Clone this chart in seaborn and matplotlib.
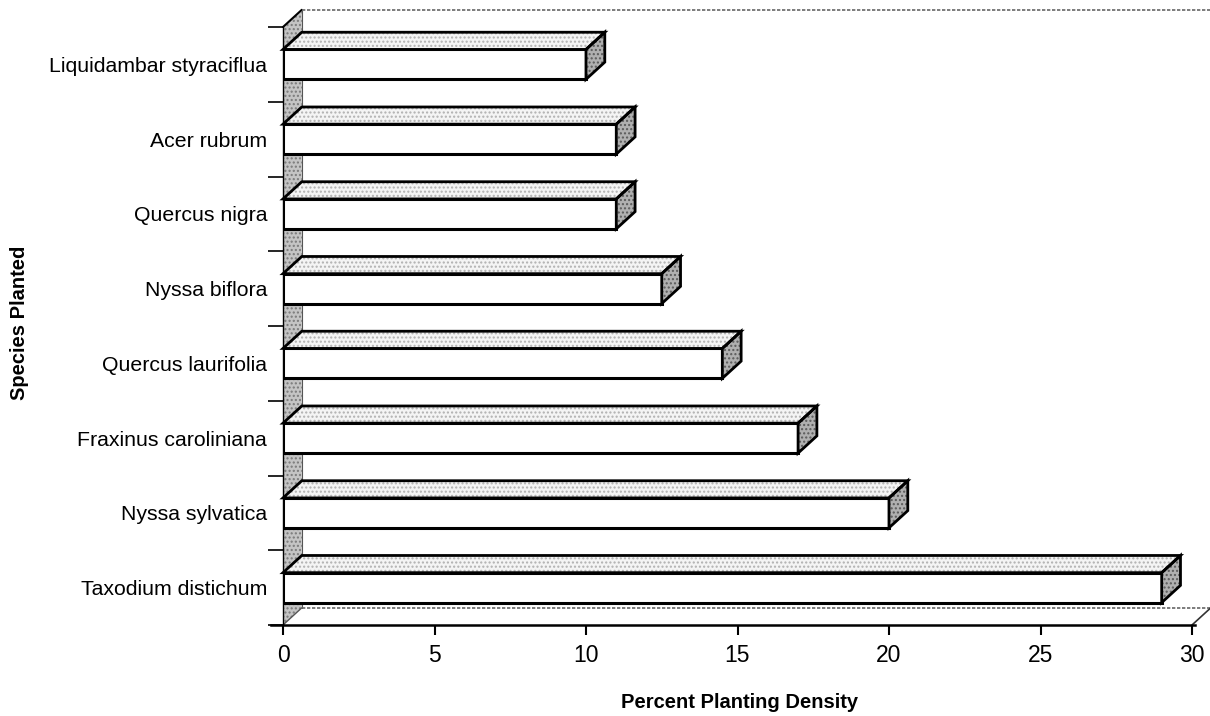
import matplotlib
matplotlib.use("Agg")
import matplotlib.pyplot as plt
from matplotlib.patches import Polygon
import seaborn as sns
import pandas as pd

species = ["Liquidambar styraciflua", "Acer rubrum", "Quercus nigra", "Nyssa biflora",
           "Quercus laurifolia", "Fraxinus caroliniana", "Nyssa sylvatica", "Taxodium distichum"]
density = [10.0, 11.0, 11.0, 12.5, 14.5, 17.0, 20.0, 29.0]
xticks = [0, 5, 10, 15, 20, 25, 30]

sns.set_style("white")
plt.rcParams['font.family'] = ['Liberation Sans', 'DejaVu Sans']
plt.rcParams['text.color'] = 'black'
plt.rcParams['axes.labelcolor'] = 'black'
plt.rcParams['xtick.color'] = 'black'
plt.rcParams['ytick.color'] = 'black'

df = pd.DataFrame({"species": species, "density": density})

fig = plt.figure(figsize=(12.1, 7.16), dpi=100)
ax = fig.add_axes([283/1210, 1 - 625/716, (1192 - 283)/1210, (625 - 27)/716])

sns.barplot(data=df, x="density", y="species", orient="h", color="white",
            edgecolor="black", linewidth=2.2, width=0.4, ax=ax, zorder=3, saturation=1)

ax.set_xlim(0, 30)
ax.set_ylim(len(species) - 0.5, -0.5)

dx = 0.62   # depth in x data units
dy = 0.23   # depth in category units

def stipple(verts, face, hatchcol, z, lw=2.0):
    ax.add_patch(Polygon(verts, closed=True, facecolor=face, edgecolor=hatchcol,
                         hatch="....", lw=0, zorder=z, clip_on=False))
    ax.add_patch(Polygon(verts, closed=True, facecolor="none", edgecolor="black",
                         lw=lw, zorder=z + 0.01, clip_on=False, joinstyle="miter"))

# left wall
ylo, yhi = len(species) - 0.5, -0.5
wall = [(0, ylo), (dx, ylo - dy), (dx, yhi - dy), (0, yhi)]
ax.add_patch(Polygon(wall, closed=True, facecolor="#c4c4c4", edgecolor="#7a7a7a",
                     hatch="....", lw=0, zorder=0.5, clip_on=False))
ax.plot([0, dx], [yhi, yhi - dy], color="black", lw=1.5, zorder=0.6, clip_on=False)
ax.plot([dx, dx], [yhi - dy, ylo - dy], color="#555555", lw=0.8, zorder=0.6, clip_on=False)

# back top line and floor line
ax.plot([dx, 30 + dx], [yhi - dy, yhi - dy], color="#666666", lw=1.2, ls=(0, (2, 1)),
        zorder=0.6, clip_on=False)
ax.plot([dx, 30 + dx], [ylo - dy, ylo - dy], color="#666666", lw=1.2, ls=(0, (2, 1)),
        zorder=0.6, clip_on=False)
ax.plot([0, dx], [ylo, ylo - dy], color="#555555", lw=1.0, zorder=0.6, clip_on=False)
ax.plot([30, 30 + dx], [ylo, ylo - dy], color="#333333", lw=1.2, zorder=0.6, clip_on=False)

# 3D faces for each bar
for p in ax.patches[:]:
    if not hasattr(p, "get_width") or p.get_zorder() != 3:
        continue
    w = p.get_width()
    y = p.get_y()
    h = p.get_height()
    top = [(0, y), (w, y), (w + dx, y - dy), (dx, y - dy)]
    side = [(w, y), (w, y + h), (w + dx, y + h - dy), (w + dx, y - dy)]
    stipple(top, "#f4f4f4", "#b0b0b0", 3.1)
    stipple(side, "#b0b0b0", "#5a5a5a", 3.1)

# axes / ticks
for s in ["top", "right"]:
    ax.spines[s].set_visible(False)
ax.spines["left"].set_linewidth(1.0)
ax.spines["left"].set_color("black")
ax.spines["bottom"].set_linewidth(1.8)
ax.spines["bottom"].set_color("black")
ax.spines["bottom"].set_bounds(-0.4, 30.1)

ax.set_xticks(xticks)
ax.set_xticklabels([str(t) for t in xticks], fontsize=16.5)
ax.tick_params(axis="x", direction="out", length=7, width=1.5, pad=7, bottom=True)

ax.set_yticks(range(len(species)))
ax.set_yticklabels(species, fontsize=15.3)
ax.tick_params(axis="y", which="major", length=0, pad=11.5, left=False)
ax.set_yticks([i - 0.5 for i in range(len(species) + 1)], minor=True)
ax.tick_params(axis="y", which="minor", direction="out", length=11, width=1.2, left=True)

ax.set_xlabel("Percent Planting Density", fontsize=14.5, fontweight="bold")
ax.set_ylabel("Species Planted", fontsize=14.5, fontweight="bold")
ax.xaxis.set_label_coords((740 - 283) / (1192 - 283), -(703 - 625) / (625 - 27))
ax.yaxis.set_label_coords(-(283 - 20) / (1192 - 283), (625 - 323) / (625 - 27))
ax.xaxis.label.set_va("center")
ax.yaxis.label.set_va("center")

fig.savefig("out.png", dpi=100, facecolor="white")
